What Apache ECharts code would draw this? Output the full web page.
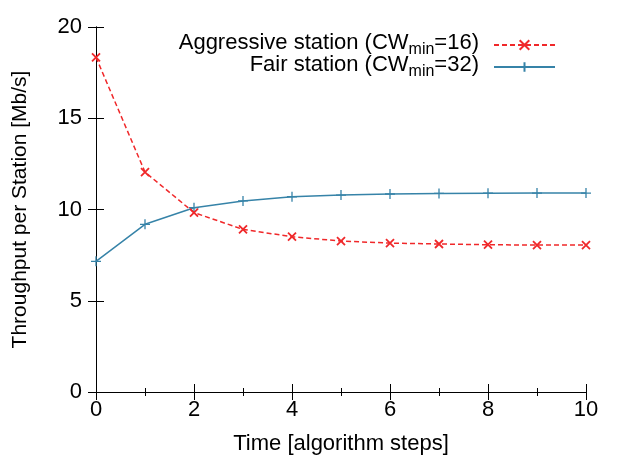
<!DOCTYPE html>
<html>
<head>
<meta charset="utf-8">
<script src="https://cdn.jsdelivr.net/npm/echarts@6/dist/echarts.min.js"></script>
<style>
html, body { margin: 0; padding: 0; background: #fff; }
#chart { width: 623px; height: 462px; }
</style>
</head>
<body>
<div id="chart"></div>
<script>
// time steps and throughput per station [Mb/s]
var steps = [0, 1, 2, 3, 4, 5, 6, 7, 8, 9, 10];
var aggressive = [18.34, 12.05, 9.83, 8.91, 8.51, 8.27, 8.16, 8.11, 8.07, 8.05, 8.05];
var fair = [7.16, 9.19, 10.10, 10.47, 10.70, 10.79, 10.85, 10.88, 10.89, 10.9, 10.9];
var seriesNames = ['Aggressive station (CWmin=16)', 'Fair station (CWmin=32)'];
var legendLabels = ['{a|Aggressive station (CW}{sub|min}{a|=16)}', '{a|Fair station (CW}{sub|min}{a|=32)}'];

var font = 'Liberation Sans, Arial, sans-serif';
var red = '#f0282a';
var blue = '#3683a8';

function pairs(vals) {
    return steps.map(function (s, i) { return [s, vals[i]]; });
}

var chart = echarts.init(document.getElementById('chart'));

var hiddenAxis = {
    axisLine: { show: true, lineStyle: { color: '#000', width: 1 } },
    axisTick: { show: true, inside: true, length: 8, lineStyle: { color: '#000' } },
    axisLabel: { show: false },
    splitLine: { show: false }
};

var option = {
    animation: false,
    backgroundColor: '#fff',
    grid: { left: 96, right: 37, top: 27, bottom: 70, containLabel: false },
    legend: {
        orient: 'vertical',
        right: 67,
        top: 32,
        padding: 0,
        align: 'right',
        itemWidth: 61,
        itemHeight: 12,
        itemGap: -4,
        data: seriesNames,
        formatter: function (name) {
            return legendLabels[seriesNames.indexOf(name)];
        },
        textStyle: {
            fontFamily: font,
            fontSize: 22,
            color: '#000',
            padding: [0, 10, 0, 0],
            rich: {
                a: { fontFamily: font, fontSize: 22, color: '#000', verticalAlign: 'top' },
                // subscript: smaller and dropped below the baseline
                sub: { fontFamily: font, fontSize: 16, color: '#000', verticalAlign: 'top', padding: [10, 0, 0, 0] }
            }
        }
    },
    xAxis: [{
        type: 'value',
        min: 0,
        max: 10,
        interval: 2,
        name: 'Time [algorithm steps]',
        nameLocation: 'middle',
        nameGap: 41,
        nameTextStyle: { fontFamily: font, fontSize: 22, color: '#000' },
        axisLine: { show: true, lineStyle: { color: '#000', width: 1 } },
        axisTick: { show: true, inside: true, length: 8, lineStyle: { color: '#000' } },
        minorTick: { show: true, splitNumber: 2, length: 4, lineStyle: { color: '#000' } },
        axisLabel: { fontFamily: font, fontSize: 22, color: '#000', margin: 7 },
        splitLine: { show: false }
    }, Object.assign({
        type: 'value', position: 'top', min: 0, max: 10, interval: 2,
        minorTick: { show: true, splitNumber: 2, length: 4, lineStyle: { color: '#000' } }
    }, hiddenAxis)],
    yAxis: [{
        type: 'value',
        min: 0,
        max: 20,
        interval: 5,
        name: 'Throughput per Station [Mb/s]',
        nameLocation: 'middle',
        nameGap: 65,
        nameTextStyle: { fontFamily: font, fontSize: 21, color: '#000' },
        axisLine: { show: true, lineStyle: { color: '#000', width: 1 } },
        axisTick: { show: true, inside: true, length: 8, lineStyle: { color: '#000' } },
        axisLabel: { fontFamily: font, fontSize: 22, color: '#000', margin: 14 },
        splitLine: { show: false }
    }, Object.assign({
        type: 'value', position: 'right', min: 0, max: 20, interval: 5
    }, hiddenAxis)],
    series: [{
        name: seriesNames[0],
        type: 'line',
        data: pairs(aggressive),
        symbol: 'path://M0,0L10,10M10,0L0,10',
        symbolSize: 8,
        showAllSymbol: true,
        lineStyle: { color: red, width: 1.5, type: [5, 3] },
        itemStyle: { color: red, borderColor: red, borderWidth: 1.8 },
        z: 3
    }, {
        name: seriesNames[1],
        type: 'line',
        data: pairs(fair),
        symbol: 'path://M5,0L5,10M0,5L10,5',
        symbolSize: 10,
        showAllSymbol: true,
        lineStyle: { color: blue, width: 1.5 },
        itemStyle: { color: blue, borderColor: blue, borderWidth: 1.3 },
        z: 2
    }]
};

chart.setOption(option);
</script>
</body>
</html>
